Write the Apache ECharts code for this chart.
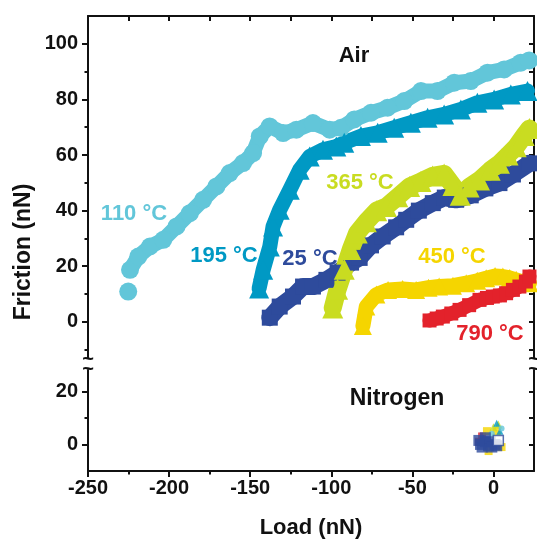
<!DOCTYPE html>
<html><head><meta charset="utf-8">
<script src="https://cdn.jsdelivr.net/npm/echarts@6/dist/echarts.min.js"></script>
<style>html,body{margin:0;padding:0;background:#fff}#c{width:537px;height:540px}</style>
</head><body><div id="c"></div>
<script>
// ---- Data (Load nN, Friction nN) ----
const air110 = [[-225.2,10.9],[-224.6,'-'],[-224.1,18.7],[-219.0,23.5],[-211.8,27.1],[-203.6,29.5],[-195.4,34.3],[-187.2,39.1],[-179.0,43.9],[-170.8,48.7],[-162.6,53.5],[-154.4,57.1],[-148.2,60.7],[-144.1,66.7],[-138.0,70.3],[-129.7,67.9],[-121.5,69.1],[-111.3,71.5],[-101.0,69.1],[-94.0,69.8],[-85.8,72.8],[-75.5,75.2],[-65.3,77.0],[-55.0,79.4],[-44.7,83.0],[-34.5,83.0],[-24.2,86.0],[-14.0,86.6],[-3.7,89.6],[6.6,90.8],[16.8,93.2],[22.0,94.0]];
const air195 = [[-144.5,12.0],[-142.0,18.7],[-137.9,27.1],[-135.9,34.3],[-131.8,40.3],[-125.6,47.5],[-119.5,54.7],[-113.3,59.5],[-105.1,61.9],[-96.9,63.1],[-92.0,64.4],[-81.7,66.8],[-71.4,68.0],[-61.2,69.8],[-50.9,71.6],[-40.6,73.4],[-30.4,74.6],[-20.1,76.4],[-9.9,78.8],[0.4,80.0],[10.7,81.8],[21.0,83.0]];
const air25 = [[-137.9,1.5],[-131.8,5.5],[-123.6,9.1],[-117.4,12.7],[-111.3,12.7],[-103.0,15.1],[-96.1,17.7],[-87.8,21.3],[-82.5,23.0],[-75.5,27.5],[-68.3,30.7],[-60.0,34.0],[-53.8,36.7],[-46.0,40.0],[-37.4,42.7],[-30.0,44.7],[-23.0,43.9],[-14.0,45.5],[-5.0,48.0],[3.7,49.9],[12.0,53.0],[22.2,57.0]];
const air365 = [[-99.1,5.0],[-96.1,11.7],[-92.0,18.9],[-88.0,26.0],[-84.0,32.0],[-78.4,36.0],[-72.0,40.0],[-66.0,41.5],[-59.0,45.0],[-51.7,48.7],[-44.7,50.5],[-37.5,52.5],[-30.4,53.2],[-25.0,49.0],[-20.5,45.5],[-15.0,48.5],[-8.6,51.0],[-2.0,54.5],[3.7,57.0],[9.0,60.0],[14.0,63.0],[18.9,67.0],[22.2,69.5]];
const air450 = [[-80.5,-1.5],[-78.4,5.5],[-72.2,9.8],[-65.0,11.5],[-56.0,11.8],[-47.7,11.5],[-40.0,12.3],[-33.5,12.7],[-25.0,13.0],[-16.8,13.9],[-10.0,14.8],[-4.5,15.7],[1.0,16.5],[5.8,16.3],[10.0,15.8],[14.0,15.1],[18.0,14.3],[22.2,13.9]];
const air790 = [[-39.4,0.5],[-35.0,1.2],[-31.2,1.9],[-26.0,3.0],[-20.9,4.3],[-15.0,6.0],[-8.6,7.9],[-4.0,8.6],[-0.4,9.1],[4.0,9.5],[7.8,10.3],[12.0,11.5],[16.0,12.7],[20.0,14.5],[22.2,16.3]];

const n2_790 = [[-9,1],[-7,3]];
const n2_450 = [[-4,5],[2,5],[5,-1],[-3,-2.5]];
const n2_365 = [[0,6.5],[3,7.5]];
const n2_195 = [[2,8],[4,5]];
const n2_110 = [[5,6],[-1,4]];
const n2_25 = [[-8,0],[-5,1],[-2,1],[-7,-1],[-3,-0.5],[1,0],[-5,2.5],[-1,-1],[-9,1.5],[2,-0.5]];
const n2_open = [[3,1.5]];

// ---- Ticks ----
const xMajor = [-250,-200,-150,-100,-50,0];
const xMinor = [-225,-175,-125,-75,-25];
const xTopTicks = [-225,-200,-175,-150,-125,-100,-75,-50,-25,0];
const yTopMajor = [0,20,40,60,80,100];
const yTopMinor = [-10,10,30,50,70,90];
const yTopRight = [-10,0,10,20,30,40,50,60,70,80,90,100];
const yBotMajor = [0,20];
const yBotMinor = [10];
const yBotRight = [0,10,20];

const labels = [
  {text:'110 °C', color:'#62C6D9', x:134, y:214},
  {text:'195 °C', color:'#0099C4', x:224, y:256},
  {text:'25 °C',  color:'#2E4B9C', x:310, y:259},
  {text:'365 °C', color:'#C9DC21', x:360, y:183},
  {text:'450 °C', color:'#F5D500', x:452, y:257},
  {text:'790 °C', color:'#E3222B', x:490, y:334}
];

const FONT = '"Liberation Sans", Arial, sans-serif';
const C = {c110:'#62C6D9', c195:'#0099C4', c25:'#2E4B9C', c365:'#C9DC21', c450:'#F5D500', c790:'#E3222B'};

function band(name, data, color, symbol, size, width) {
  return {
    type:'line', name, data, xAxisIndex:0, yAxisIndex:0,
    symbol, symbolSize:size, showSymbol:true, showAllSymbol:true,
    connectNulls:false, clip:true,
    lineStyle:{color, width, join:'round', cap:'round'},
    itemStyle:{color, borderWidth:0},
    emphasis:{disabled:true}, animation:false, silent:true
  };
}
function dots(name, data, color, symbol, size, border) {
  return {
    type:'scatter', name, data, xAxisIndex:1, yAxisIndex:3,
    symbol, symbolSize:size,
    itemStyle:{color, borderColor: border || color, borderWidth: border ? 1.5 : 0},
    emphasis:{disabled:true}, animation:false, silent:true
  };
}

const axLine = {show:true, onZero:false, lineStyle:{color:'#111', width:2}};
const tickStyle = {color:'#111', width:2};
const lblStyle = {color:'#111', fontFamily:FONT, fontWeight:'bold', fontSize:20};
function yAx(grid, pos, min, max, ticks, len, inside, lbls, line) {
  return {
    type:'value', gridIndex:grid, position:pos, min, max,
    axisLine: line ? axLine : {show:false, onZero:false},
    axisTick:{show:true, inside, length:len, lineStyle:tickStyle, customValues:ticks},
    axisLabel: lbls ? Object.assign({show:true, margin:10, customValues:lbls}, lblStyle) : {show:false},
    splitLine:{show:false}
  };
}
function xAx(grid, pos, ticks, len, inside, lbls, line) {
  return {
    type:'value', gridIndex:grid, position:pos, min:-250, max:25,
    axisLine: line ? axLine : {show:false, onZero:false},
    axisTick:{show:true, inside, length:len, lineStyle:tickStyle, customValues:ticks},
    axisLabel: lbls ? Object.assign({show:true, margin:7, customValues:lbls}, lblStyle) : {show:false},
    splitLine:{show:false}
  };
}

const graphics = [];
labels.forEach(l => graphics.push({type:'text', x:l.x, y:l.y, silent:true,
  style:{text:l.text, fill:l.color, font:'bold 22px '+FONT, textAlign:'center', textVerticalAlign:'middle'}}));
graphics.push({type:'text', x:354, y:56, silent:true, style:{text:'Air', fill:'#111', font:'bold 22px '+FONT, textAlign:'center', textVerticalAlign:'middle'}});
graphics.push({type:'text', x:397, y:399, silent:true, style:{text:'Nitrogen', fill:'#111', font:'bold 23px '+FONT, textAlign:'center', textVerticalAlign:'middle'}});
graphics.push({type:'text', x:24, y:252, rotation:Math.PI/2, silent:true, style:{text:'Friction (nN)', fill:'#111', font:'bold 23px '+FONT, textAlign:'center', textVerticalAlign:'middle'}});
[[88,359],[534,359],[88,369],[534,369]].forEach(p => graphics.push({type:'text', x:p[0], y:p[1], silent:true,
  style:{text:'~', fill:'#111', font:'bold 20px '+FONT, textAlign:'center', textVerticalAlign:'middle'}}));

const chart = echarts.init(document.getElementById('c'), null, {renderer:'canvas'});
chart.setOption({
  animation:false,
  backgroundColor:'#fff',
  grid:[
    {left:88, top:16, width:446, height:342},
    {left:88, top:370, width:446, height:101}
  ],
  xAxis:[
    xAx(0,'top', xTopTicks, 5, true, null, true),
    Object.assign(xAx(1,'bottom', xMajor, 6, false, xMajor, true), {
      name:'Load (nN)', nameLocation:'middle', nameGap:46,
      nameTextStyle:{color:'#111', fontFamily:FONT, fontWeight:'bold', fontSize:22}
    }),
    xAx(1,'bottom', xMinor, 3.5, false, null, false)
  ],
  yAxis:[
    yAx(0,'left', -13, 110, yTopMajor, 6, false, yTopMajor, true),
    yAx(0,'left', -13, 110, yTopMinor, 3.5, false, null, false),
    yAx(0,'right', -13, 110, yTopRight, 5, true, null, true),
    yAx(1,'left', -10, 28, yBotMajor, 6, false, yBotMajor, true),
    yAx(1,'left', -10, 28, yBotMinor, 3.5, false, null, false),
    yAx(1,'right', -10, 28, yBotRight, 5, true, null, true)
  ],
  graphic: graphics,
  series:[
    band('110 °C', air110, C.c110, 'circle', 18, 15),
    band('195 °C', air195, C.c195, 'triangle', 20, 15),
    band('25 °C', air25, C.c25, 'rect', 16, 17),
    band('365 °C', air365, C.c365, 'triangle', 21, 18),
    band('450 °C', air450, C.c450, 'triangle', 18, 15),
    band('790 °C', air790, C.c790, 'rect', 14, 14),
    dots('N2 790', n2_790, C.c790, 'rect', 8),
    dots('N2 450', n2_450, C.c450, 'rect', 8),
    dots('N2 365', n2_365, C.c365, 'triangle', 8),
    dots('N2 195', n2_195, C.c195, 'triangle', 7),
    dots('N2 110', n2_110, C.c110, 'circle', 6),
    dots('N2 25', n2_25, C.c25, 'rect', 11),
    dots('N2 open', n2_open, '#ffffff', 'rect', 10, C.c25)
  ]
});
</script>
</body></html>
